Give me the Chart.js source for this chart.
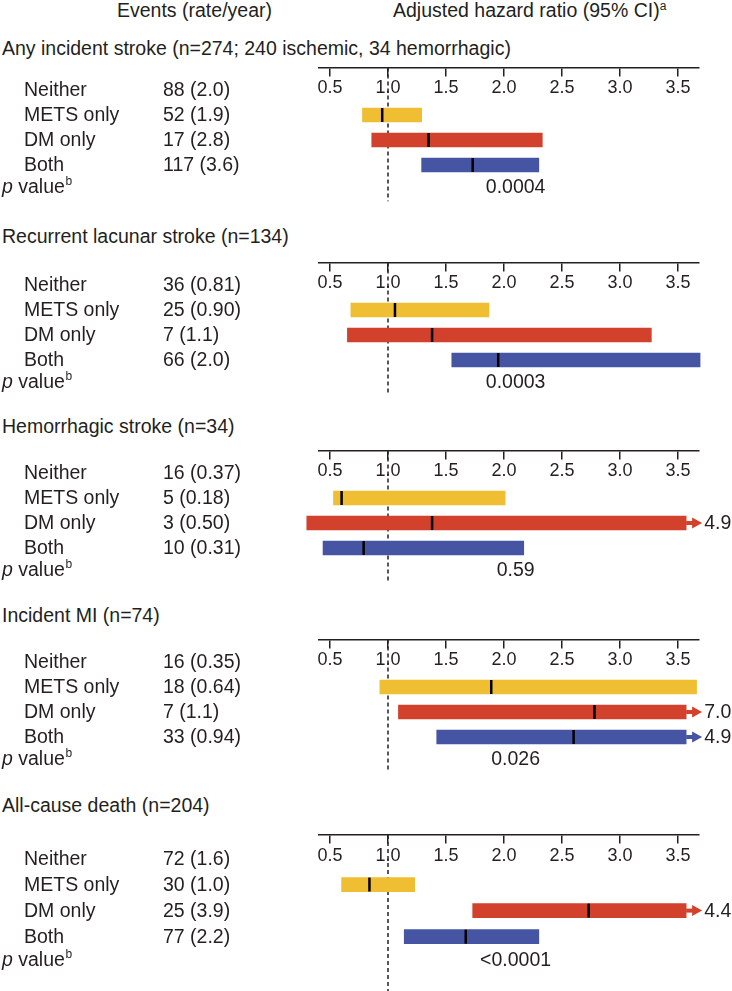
<!DOCTYPE html>
<html>
<head>
<meta charset="utf-8">
<title>Adjusted hazard ratios</title>
<script src="https://cdn.jsdelivr.net/npm/chart.js@4.4.1/dist/chart.umd.min.js"></script>
<style>
  body { margin: 0; width: 732px; height: 991px; position: relative; overflow: hidden; background: #fff;
         font-family: "Liberation Sans", Arial, sans-serif; color: #231f20; }
  .txt { position: absolute; font-size: 19.5px; line-height: 1; white-space: nowrap; }
  .txt sup { font-size: 12px; vertical-align: 0; position: relative; top: -7px; }
  canvas { position: absolute; left: 0; }
</style>
</head>
<body>
<div class="txt" style="left:117px;top:1px">Events (rate/year)</div>
<div class="txt" style="left:393px;top:1px">Adjusted hazard ratio (95% CI)<sup>a</sup></div>
<script>
  // --- data ---
  const panelTitles = [
    'Any incident stroke (n=274; 240 ischemic, 34 hemorrhagic)',
    'Recurrent lacunar stroke (n=134)',
    'Hemorrhagic stroke (n=34)',
    'Incident MI (n=74)',
    'All-cause death (n=204)'
  ];
  const groups = ['Neither', 'METS only', 'DM only', 'Both'];
  const events = [
    ['88 (2.0)', '52 (1.9)', '17 (2.8)', '117 (3.6)'],
    ['36 (0.81)', '25 (0.90)', '7 (1.1)', '66 (2.0)'],
    ['16 (0.37)', '5 (0.18)', '3 (0.50)', '10 (0.31)'],
    ['16 (0.35)', '18 (0.64)', '7 (1.1)', '33 (0.94)'],
    ['72 (1.6)', '30 (1.0)', '25 (3.9)', '77 (2.2)']
  ];
  // hazard ratio + 95% CI, Neither is the reference group
  const hrMets = [0.95, 1.06, 0.60, 1.89, 0.84];
  const loMets = [0.78, 0.68, 0.53, 0.93, 0.60];
  const hiMets = [1.29, 1.87, 2.01, 3.66, 1.23];
  const hrDm = [1.35, 1.38, 1.38, 2.78, 2.73];
  const loDm = [0.86, 0.65, 0.30, 1.09, 1.73];
  const hiDm = [2.33, 3.27, 4.9, 7.0, 4.4];
  const hrBoth = [1.73, 1.95, 0.79, 2.60, 1.67];
  const loBoth = [1.29, 1.55, 0.44, 1.42, 1.14];
  const hiBoth = [2.30, 3.69, 2.17, 4.9, 2.30];
  const pValues = ['0.0004', '0.0003', '0.59', '0.026', '<0.0001'];
  const tickValues = [0.5, 1.0, 1.5, 2.0, 2.5, 3.0, 3.5];

  // --- layout ---
  const FONT = '"Liberation Sans", Arial, sans-serif';
  const TXT = '19.5px ' + FONT;
  const INK = '#231f20';
  const COLORS = ['#F0BE32', '#D2412B', '#4554A3'];
  const AXIS_Y = [67, 262, 450, 639, 835];
  const TITLE_Y = [48, 236, 426, 615, 805];
  const ROW_PX = [25, 25, 25, 25, 26];
  const AXIS_ROW = -0.9, P_ROW = 3.88, DASH_END = [4.45, 4.3, 4.4, 4.4, 5.2];
  const X_MIN = 0.4, X_MAX = 3.68, ARROW_FROM = 3.57;

  const barEnd = hi => hi > X_MAX + 0.03 ? ARROW_FROM : hi;

  function overlay(k) {
    const hr = [hrMets[k], hrDm[k], hrBoth[k]];
    const hi = [hiMets[k], hiDm[k], hiBoth[k]];
    return {
      id: 'overlay' + k,
      beforeDatasetsDraw(chart) {
        // reference line at HR = 1, behind the bars
        const { ctx, scales: { x, y } } = chart;
        ctx.save();
        ctx.strokeStyle = INK;
        ctx.lineWidth = 1.5;
        ctx.setLineDash([4, 3]);
        const px = x.getPixelForValue(1);
        ctx.beginPath();
        ctx.moveTo(px, y.getPixelForValue(AXIS_ROW));
        ctx.lineTo(px, y.getPixelForValue(DASH_END[k]));
        ctx.stroke();
        ctx.restore();
      },
      afterDatasetsDraw(chart) {
        const { ctx, scales: { x, y } } = chart;
        const meta = chart.getDatasetMeta(0);
        ctx.save();
        meta.data.forEach((bar, i) => {
          // point estimate
          const px = x.getPixelForValue(hr[i]);
          ctx.fillStyle = '#000';
          ctx.fillRect(px - 1.25, bar.y - bar.height / 2, 2.5, bar.height);
          // CI running off the axis -> arrow + value
          if (hi[i] > X_MAX + 0.03) {
            const x0 = x.getPixelForValue(ARROW_FROM);
            ctx.fillStyle = COLORS[i];
            ctx.fillRect(x0, bar.y - 2, 8, 4);
            ctx.beginPath();
            ctx.moveTo(x0 + 6, bar.y - 5.5);
            ctx.lineTo(x0 + 16, bar.y);
            ctx.lineTo(x0 + 6, bar.y + 5.5);
            ctx.closePath();
            ctx.fill();
            ctx.fillStyle = INK;
            ctx.font = TXT;
            ctx.textAlign = 'left';
            ctx.textBaseline = 'middle';
            ctx.fillText(hi[i].toFixed(1), x0 + 18, bar.y + 1);
          }
        });

        // left columns
        ctx.fillStyle = INK;
        ctx.font = TXT;
        ctx.textAlign = 'left';
        ctx.textBaseline = 'middle';
        groups.forEach((g, r) => {
          const py = y.getPixelForValue(r) + 1;
          ctx.fillText(g, 24, py);
          ctx.fillText(events[k][r], 163, py);
        });
        const pp = y.getPixelForValue(P_ROW) + 1;
        ctx.font = 'italic ' + TXT;
        ctx.fillText('p', 2, pp);
        let w = ctx.measureText('p').width;
        ctx.font = TXT;
        ctx.fillText(' value', 2 + w, pp);
        w += ctx.measureText(' value').width;
        ctx.font = '12px ' + FONT;
        ctx.fillText('b', 2 + w + 0.5, pp - 6);
        ctx.font = TXT;
        ctx.textAlign = 'center';
        ctx.fillText(pValues[k], x.getPixelForValue(2.1), pp);
        ctx.restore();
      }
    };
  }

  panelTitles.forEach((title, k) => {
    const t = document.createElement('div');
    t.className = 'txt';
    t.style.left = '2px';
    t.style.top = (TITLE_Y[k] - 9.5) + 'px';
    t.textContent = title;
    document.body.appendChild(t);

    const cv = document.createElement('canvas');
    cv.width = 732;
    cv.height = Math.round(6.6 * ROW_PX[k]);
    cv.style.top = (AXIS_Y[k] - 0.5 * ROW_PX[k]) + 'px';
    document.body.appendChild(cv);

    new Chart(cv, {
      type: 'bar',
      data: {
        datasets: [{
          data: [
            { y: 1, x: [loMets[k], barEnd(hiMets[k])] },
            { y: 2, x: [loDm[k], barEnd(hiDm[k])] },
            { y: 3, x: [loBoth[k], barEnd(hiBoth[k])] }
          ],
          backgroundColor: COLORS,
          borderWidth: 0,
          barThickness: 14,
          clip: false
        }]
      },
      options: {
        indexAxis: 'y',
        responsive: false,
        animation: false,
        devicePixelRatio: 1,
        layout: { padding: { left: 318.4, right: 33.1, top: 0, bottom: 0 } },
        plugins: { legend: { display: false }, tooltip: { enabled: false } },
        scales: {
          y: { type: 'linear', reverse: true, offset: false, min: -1.4, max: 5.2, display: false },
          x: {
            type: 'linear', min: X_MIN, max: X_MAX,
            position: { y: AXIS_ROW },
            afterBuildTicks: s => { s.ticks = tickValues.map(v => ({ value: v })); },
            ticks: {
              callback: v => v.toFixed(1), color: INK, padding: 2,
              font: { family: FONT, size: 18 }, maxRotation: 0, autoSkip: false
            },
            grid: { drawOnChartArea: false, drawTicks: true, tickLength: 8, color: INK, lineWidth: 1.5 },
            border: { display: true, color: INK, width: 1.5 }
          }
        }
      },
      plugins: [overlay(k)]
    });
  });
</script>
</body>
</html>
